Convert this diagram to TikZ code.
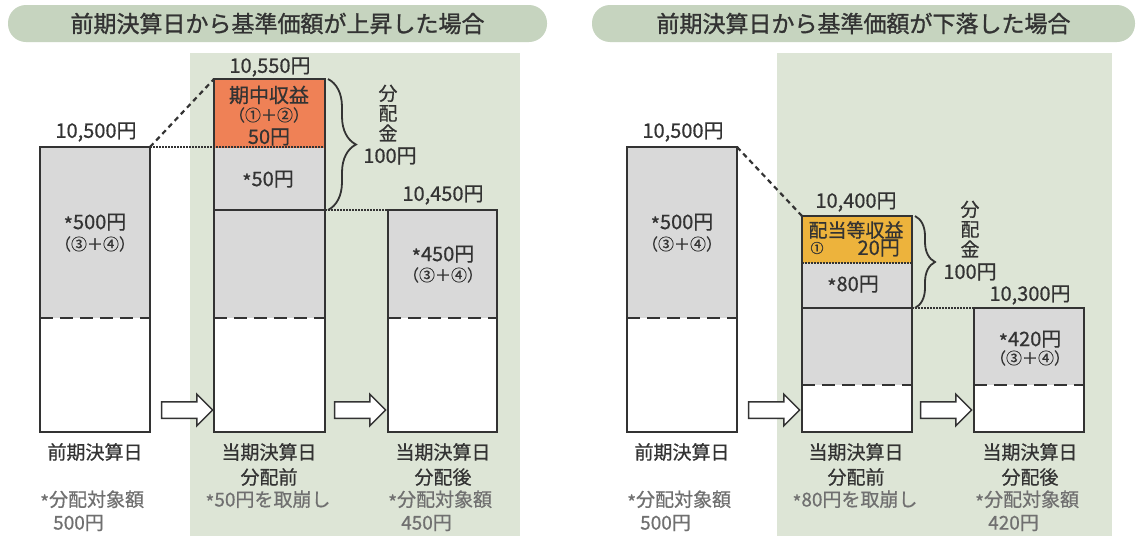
\documentclass[tikz,border=0pt]{standalone}
\usepackage{fontspec}
\setmainfont{Noto Sans CJK JP}[FakeBold=0.6]
\newfontfamily\headfont{Noto Sans CJK JP}[FakeBold=1.2]
\usetikzlibrary{decorations.pathreplacing, shapes.arrows}
\definecolor{pillgreen}{HTML}{C6D4BF}
\definecolor{bggreen}{HTML}{DDE5D6}
\definecolor{bargray}{HTML}{D9D9D9}
\definecolor{incorange}{HTML}{EF8156}
\definecolor{incyellow}{HTML}{EDB33C}
\definecolor{ink}{HTML}{333333}
\definecolor{note}{HTML}{707070}
\newcommand{\fsz}[1]{\fontsize{#1}{#1}\selectfont}
\newcommand{\kome}{\raisebox{-0.3ex}{*}}

\begin{document}
\begin{tikzpicture}[x=1pt, y=-1pt,
    bar/.style={draw=ink, line width=1.6pt, inner sep=0, outer sep=0, anchor=north west},
    divide/.style={draw=ink, line width=2pt, dash pattern=on 13pt off 7pt},
    dotline/.style={draw=ink, line width=1.5pt, dash pattern=on 1.5pt off 1.5pt},
    slope/.style={draw=ink, line width=2.2pt, dash pattern=on 5pt off 4pt},
    curly/.style={draw=ink, line width=1.8pt, decorate, decoration={brace, amplitude=#1}},
    pill/.style={fill=pillgreen, rounded corners=18pt, minimum height=37pt, inner sep=0, text=ink, font=\headfont\fsz{23}},
    val/.style={text=ink, font=\fsz{20}, inner sep=0},
    paren/.style={text=ink, font=\fsz{16}, inner sep=0},
    memo/.style={text=note, font=\fsz{19}, inner sep=0},
    twoline/.style={text=ink, inner sep=0, align=center, font=\fontsize{19}{25}\selectfont},
    upright/.style={text=ink, inner sep=0, align=center, font=\fontsize{19}{20}\selectfont},
    hollow/.style={single arrow, draw=ink, fill=white, line width=1.5pt, inner xsep=0pt, inner ysep=7.5pt, minimum height=51pt, single arrow head extend=7.5pt}]
  \fill[white] (0,0) rectangle (1137,536);
  \useasboundingbox (0,0) rectangle (1137,536);
  % rising case
  \begin{scope}
    \fill[bggreen] (190,53) rectangle (520,536);
    \node[pill, minimum width=539pt] (t) at (277.5,23.5) {前期決算日から基準価額が上昇した場合};
    % previous day
    \fill[bargray] (40,147) rectangle (150,318);
    \fill[white] (40,318) rectangle (150,432);
    \draw[divide] (40,318) -- (150,318);
    \node[bar, minimum width=110pt, minimum height=285pt] (b1) at (40,147) {};
    % before payout
    \fill[incorange] (214,79) rectangle (325,148);
    \fill[bargray] (214,148) rectangle (325,318);
    \fill[white] (214,318) rectangle (325,432);
    \draw[divide] (214,318) -- (325,318);
    \draw[draw=ink, line width=1.6pt] (214,210) -- (325,210);
    \node[bar, minimum width=111pt, minimum height=353pt] (b2) at (214,79) {};
    % after payout
    \fill[bargray] (388,210) rectangle (497,318);
    \fill[white] (388,318) rectangle (497,432);
    \draw[divide] (388,318) -- (497,318);
    \node[bar, minimum width=109pt, minimum height=222pt] (b3) at (388,210) {};
    \draw[dotline] (b1.north east) -- (b1.north east -| b2.east);
    \draw[slope] (b1.north east) -- (b2.north west);
    \draw[dotline] (b3.north west -| b2.east) -- (b3.north west);
    \draw[curly=28pt] ([xshift=3pt]b2.north east) -- ([xshift=3pt]b2.east |- b3.north);
    \node[val] (v1) at (96,132) {10,500円};
    \node[val] (m1) at (95,223) {\kome{}500円};
    \node[paren] (p1) at (95,244) {（③＋④）};
    \node[val] (v2) at (270,67) {10,550円};
    \node[val] (i1) at (269,95) {期中収益};
    \node[paren] (i2) at (269,115) {（①＋②）};
    \node[val] (i3) at (269,137) {50円};
    \node[val] (m2) at (268,180) {\kome{}50円};
    \node[upright] (d1) at (388,113) {分\\配\\金};
    \node[val] (d2) at (390,156) {100円};
    \node[val] (v3) at (443,195) {10,450円};
    \node[val] (m3) at (443,255) {\kome{}450円};
    \node[paren] (p3) at (443,275) {（③＋④）};
    \node[hollow] (a1) at (183,410) {};
    \node[hollow] (a2) at (356,410) {};
    \node[val, font=\fsz{19}] (n1) at (95,452) {前期決算日};
    \node[memo, anchor=west] (n2) at (40,500) {\kome{}分配対象額};
    \node[memo, anchor=west] (n3) at (53,523) {500円};
    \node[twoline] (n4) at (269,464.5) {当期決算日\\分配前};
    \node[memo] (n5) at (268,500) {\kome{}50円を取崩し};
    \node[twoline] (n6) at (443,464.5) {当期決算日\\分配後};
    \node[memo, anchor=west] (n7) at (388,500) {\kome{}分配対象額};
    \node[memo, anchor=west] (n8) at (401,523) {450円};
  \end{scope}
  % falling case
  \begin{scope}[xshift=587pt]
    \fill[bggreen] (190,53) rectangle (525,536);
    \node[pill, minimum width=543pt] (t) at (276.5,23.5) {前期決算日から基準価額が下落した場合};
    % previous day
    \fill[bargray] (40,147) rectangle (150,318);
    \fill[white] (40,318) rectangle (150,432);
    \draw[divide] (40,318) -- (150,318);
    \node[bar, minimum width=110pt, minimum height=285pt] (b1) at (40,147) {};
    % before payout
    \fill[incyellow] (215,216) rectangle (325,263);
    \fill[bargray] (215,263) rectangle (325,385);
    \fill[white] (215,385) rectangle (325,432);
    \draw[divide] (215,385) -- (325,385);
    \draw[draw=ink, line width=1.6pt] (215,308) -- (325,308);
    \node[bar, minimum width=110pt, minimum height=216pt] (b2) at (215,216) {};
    % after payout
    \fill[bargray] (387,308) rectangle (497,385);
    \fill[white] (387,385) rectangle (497,432);
    \draw[divide] (387,385) -- (497,385);
    \node[bar, minimum width=110pt, minimum height=124pt] (b3) at (387,308) {};
    \draw[slope] (b1.north east) -- (b2.north west);
    \draw[dotline] (b2.north west |- 0,263) -- (b2.east |- 0,263);
    \draw[dotline] (b3.north west -| b2.east) -- (b3.north west);
    \draw[curly=20pt] ([xshift=3pt]b2.north east) -- ([xshift=3pt]b2.east |- b3.north);
    \node[val] (v1) at (96,132) {10,500円};
    \node[val] (m1) at (95,223) {\kome{}500円};
    \node[paren] (p1) at (95,244) {（③＋④）};
    \node[val] (v2) at (269,202) {10,400円};
    \node[val, font=\fsz{19}] (i1) at (269,230) {配当等収益};
    \node[paren, font=\fsz{13}] (i2) at (230,248) {①};
    \node[val, anchor=east] (i3) at (313,248) {20円};
    \node[val] (m2) at (266,285) {\kome{}80円};
    \node[upright] (d1) at (383,229) {分\\配\\金};
    \node[val] (d2) at (383,272) {100円};
    \node[val] (v3) at (443,295) {10,300円};
    \node[val] (m3) at (443,340) {\kome{}420円};
    \node[paren] (p3) at (443,358) {（③＋④）};
    \node[hollow] (a1) at (183,410) {};
    \node[hollow] (a2) at (355,410) {};
    \node[val, font=\fsz{19}] (n1) at (95,452) {前期決算日};
    \node[memo, anchor=west] (n2) at (40,500) {\kome{}分配対象額};
    \node[memo, anchor=west] (n3) at (53,523) {500円};
    \node[twoline] (n4) at (269,464.5) {当期決算日\\分配前};
    \node[memo] (n5) at (268,500) {\kome{}80円を取崩し};
    \node[twoline] (n6) at (443,464.5) {当期決算日\\分配後};
    \node[memo, anchor=west] (n7) at (388,500) {\kome{}分配対象額};
    \node[memo, anchor=west] (n8) at (401,523) {420円};
  \end{scope}
\end{tikzpicture}
\end{document}
